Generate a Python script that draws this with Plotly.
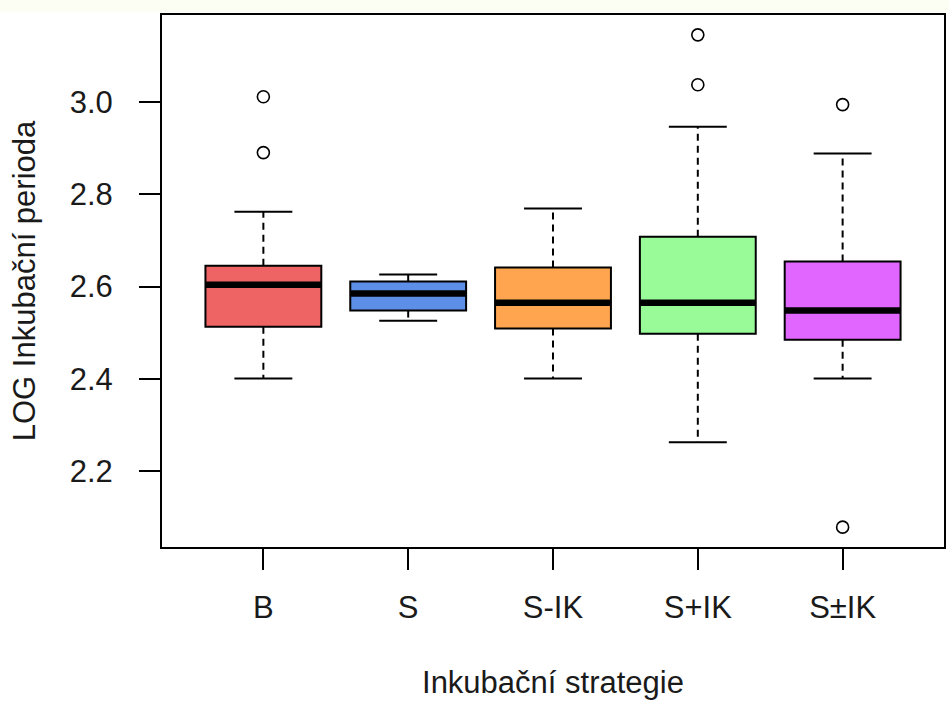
import plotly.graph_objects as go

categories = ["B", "S", "S-IK", "S+IK", "S±IK"]
lower_whisker = [2.401, 2.526, 2.401, 2.263, 2.401]
q1 = [2.513, 2.548, 2.509, 2.498, 2.485]
median = [2.604, 2.585, 2.565, 2.565, 2.548]
q3 = [2.645, 2.611, 2.641, 2.708, 2.654]
upper_whisker = [2.762, 2.626, 2.769, 2.946, 2.888]
outliers = {
    "B": [3.011, 2.890],
    "S": [],
    "S-IK": [],
    "S+IK": [3.145, 3.037],
    "S±IK": [2.994, 2.079],
}
colors = ["#EE6363", "#5E8FE8", "#FFA54F", "#98FB98", "#E066FF"]
y_ticks = [2.2, 2.4, 2.6, 2.8, 3.0]

FONT = "Liberation Sans, Arial, sans-serif"
TXT = "#1a1a1a"
FS = 31
HALF_BOX = 0.4
HALF_CAP = 0.2

fig = go.Figure()
shapes = []
for i, cat in enumerate(categories):
    xc = i + 1
    # whiskers (dashed)
    shapes.append(dict(type="line", xref="x", yref="y", x0=xc, x1=xc, y0=q3[i], y1=upper_whisker[i],
                       line=dict(color="black", width=2, dash="7px,5px")))
    shapes.append(dict(type="line", xref="x", yref="y", x0=xc, x1=xc, y0=q1[i], y1=lower_whisker[i],
                       line=dict(color="black", width=2, dash="7px,5px")))
    # caps
    for yv in (upper_whisker[i], lower_whisker[i]):
        shapes.append(dict(type="line", xref="x", yref="y", x0=xc - HALF_CAP, x1=xc + HALF_CAP, y0=yv, y1=yv,
                           line=dict(color="black", width=2)))
    # box
    shapes.append(dict(type="rect", xref="x", yref="y", x0=xc - HALF_BOX, x1=xc + HALF_BOX, y0=q1[i], y1=q3[i],
                       fillcolor=colors[i], line=dict(color="black", width=2)))
    # median
    shapes.append(dict(type="line", xref="x", yref="y", x0=xc - HALF_BOX, x1=xc + HALF_BOX, y0=median[i], y1=median[i],
                       line=dict(color="black", width=6.5)))
    if outliers[cat]:
        fig.add_trace(go.Scatter(x=[xc] * len(outliers[cat]), y=outliers[cat], mode="markers",
                                 marker=dict(symbol="circle-open", size=12, color="black", line=dict(width=1.6)),
                                 showlegend=False, hoverinfo="y"))

# light top band of the original image
shapes.append(dict(type="rect", xref="paper", yref="paper", x0=-0.3, x1=1.1, y0=1.0 + 3/532, y1=1.0 + 15/532,
                   fillcolor="#FCFDF3", line=dict(width=0), layer="below"))

fig.update_layout(
    width=949, height=703,
    margin=dict(l=162, r=3, t=15, b=156),
    paper_bgcolor="white", plot_bgcolor="white",
    shapes=shapes,
    font=dict(family=FONT, size=FS, color=TXT),
    showlegend=False,
    xaxis=dict(
        range=[0.3, 5.7], tickmode="array", tickvals=[1, 2, 3, 4, 5], ticktext=categories,
        showgrid=False, zeroline=False, showline=True, mirror=True, linecolor="black", linewidth=2,
        ticks="outside", ticklen=21, tickwidth=2, tickcolor="black", ticklabelstandoff=11,
        tickfont=dict(size=FS, color=TXT),
        title=dict(text="Inkubační strategie", font=dict(size=FS, color=TXT), standoff=47),
    ),
    yaxis=dict(
        range=[2.036, 3.188], tickmode="array", tickvals=y_ticks, ticktext=[f"{v:.1f}" for v in y_ticks],
        showgrid=False, zeroline=False, showline=True, mirror=True, linecolor="black", linewidth=2,
        ticks="outside", ticklen=21, tickwidth=2, tickcolor="black", ticklabelstandoff=20,
        tickfont=dict(size=FS, color=TXT),
        title=dict(text="LOG Inkubační perioda", font=dict(size=FS, color=TXT), standoff=25),
    ),
)

fig.write_html("out.html")
